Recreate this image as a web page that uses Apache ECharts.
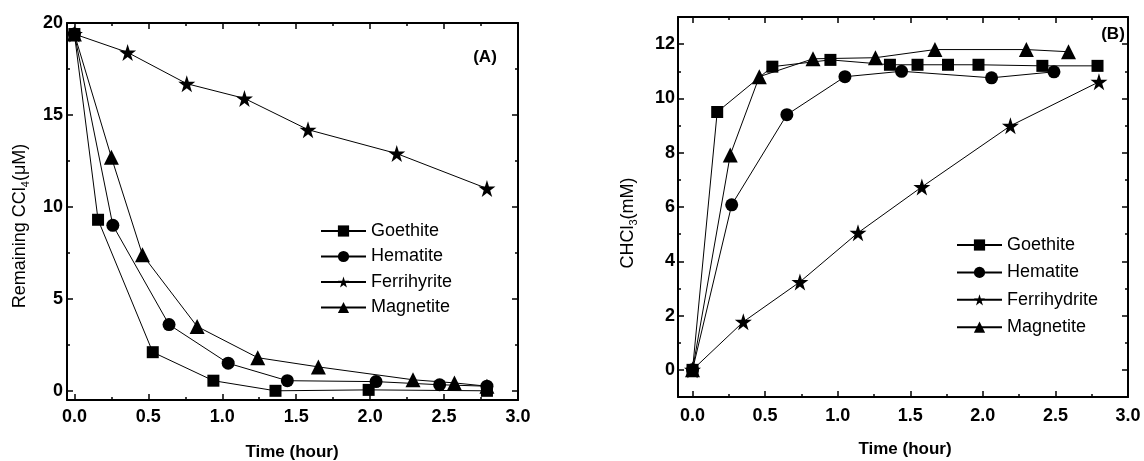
<!DOCTYPE html>
<html>
<head>
<meta charset="utf-8">
<script src="https://cdn.jsdelivr.net/npm/echarts@6/dist/echarts.min.js"></script>
<style>html,body{margin:0;padding:0;background:#fff;}#c{width:1144px;height:461px;}</style>
</head>
<body>
<div id="c"></div>
<script>
// ---------- Panel A: Remaining CCl4 (uM) vs time (hour) ----------
const seriesNamesA = ['Goethite', 'Hematite', 'Ferrihyrite', 'Magnetite'];
const tA_goethite = [0, 0.16, 0.53, 0.94, 1.36, 1.99, 2.79];
const yA_goethite = [19.4, 9.3, 2.1, 0.55, 0.0, 0.05, 0.0];
const tA_hematite = [0, 0.26, 0.64, 1.04, 1.44, 2.04, 2.47, 2.79];
const yA_hematite = [19.4, 9.0, 3.6, 1.5, 0.55, 0.5, 0.33, 0.25];
const tA_ferri = [0, 0.36, 0.76, 1.15, 1.58, 2.18, 2.79];
const yA_ferri = [19.4, 18.4, 16.7, 15.9, 14.2, 12.9, 11.0];
const tA_magnetite = [0, 0.25, 0.46, 0.83, 1.24, 1.65, 2.29, 2.57, 2.79];
const yA_magnetite = [19.4, 12.7, 7.4, 3.5, 1.8, 1.3, 0.6, 0.43, 0.25];
const xTicksA = [0, 0.5, 1.0, 1.5, 2.0, 2.5, 3.0];
const xMinorA = [0.25, 0.75, 1.25, 1.75, 2.25, 2.75];
const yTicksA = [0, 5, 10, 15, 20];
const yMinorA = [2.5, 7.5, 12.5, 17.5];

// ---------- Panel B: CHCl3 (mM) vs time (hour) ----------
const seriesNamesB = ['Goethite', 'Hematite', 'Ferrihydrite', 'Magnetite'];
const tB_goethite = [0, 0.17, 0.55, 0.95, 1.36, 1.55, 1.76, 1.97, 2.41, 2.79];
const yB_goethite = [0, 9.5, 11.17, 11.42, 11.24, 11.24, 11.24, 11.24, 11.2, 11.2];
const tB_hematite = [0, 0.27, 0.65, 1.05, 1.44, 2.06, 2.49];
const yB_hematite = [0, 6.08, 9.4, 10.8, 11.0, 10.76, 10.98];
const tB_ferri = [0, 0.35, 0.74, 1.14, 1.58, 2.19, 2.8];
const yB_ferri = [0, 1.77, 3.24, 5.05, 6.74, 8.99, 10.61];
const tB_magnetite = [0, 0.26, 0.46, 0.83, 1.26, 1.67, 2.3, 2.59];
const yB_magnetite = [0, 7.92, 10.8, 11.46, 11.5, 11.8, 11.8, 11.72];
const xTicksB = [0, 0.5, 1.0, 1.5, 2.0, 2.5, 3.0];
const xMinorB = [0.25, 0.75, 1.25, 1.75, 2.25, 2.75];
const yTicksB = [0, 2, 4, 6, 8, 10, 12];
const yMinorB = [-1, 1, 3, 5, 7, 9, 11, 13];

const FONT = 'Liberation Sans';
const STAR = 'path://M50,0L61.2,34.5L97.6,34.5L68.2,55.9L79.4,90.5L50,69.1L20.6,90.5L31.8,55.9L2.4,34.5L38.8,34.5Z';
const pairs = (xs, ys) => xs.map((x, i) => [x, ys[i]]);
const tickFont = { fontFamily: FONT, fontWeight: 'bold', fontSize: 18, color: '#000' };

function axisSet(kind, g, min, max, major, minor, margin, fmt) {
  const posA = kind === 'x' ? 'bottom' : 'left';
  const posB = kind === 'x' ? 'top' : 'right';
  const base = { type: 'value', gridIndex: g, min: min, max: max, splitLine: { show: false } };
  const line = { show: true, onZero: false, lineStyle: { color: '#000', width: 2 } };
  const noLine = { show: false, onZero: false };
  const tick = (vals, len) => ({ show: true, inside: true, length: len, customValues: vals, lineStyle: { color: '#000', width: 1.5 } });
  return [
    Object.assign({}, base, { position: posA, axisLine: line, axisTick: tick(major, 6),
      axisLabel: Object.assign({ show: true, customValues: major, margin: margin, formatter: fmt }, tickFont) }),
    Object.assign({}, base, { position: posA, axisLine: noLine, axisTick: tick(minor, 3), axisLabel: { show: false } }),
    Object.assign({}, base, { position: posB, axisLine: line, axisTick: tick(major, 6), axisLabel: { show: false } }),
    Object.assign({}, base, { position: posB, axisLine: noLine, axisTick: tick(minor, 3), axisLabel: { show: false } })
  ];
}

const fmt1 = v => v.toFixed(1);
const fmt0 = v => String(Math.round(v));

function mkSeries(name, data, symbol, size, axisIdx) {
  return {
    type: 'line', name: name, data: data, xAxisIndex: axisIdx, yAxisIndex: axisIdx,
    symbol: symbol, symbolSize: size, showAllSymbol: true,
    lineStyle: { color: '#000', width: 1 }, itemStyle: { color: '#000' },
    color: '#000', animation: false, z: 3
  };
}

const legendBase = {
  orient: 'vertical', itemWidth: 45, itemHeight: 14, selectedMode: false, padding: 0,
  textStyle: { fontFamily: FONT, fontSize: 18, color: '#000' }
};

const option = {
  animation: false,
  backgroundColor: '#fff',
  grid: [
    { left: 67, top: 23, width: 451, height: 377 },
    { left: 678, top: 17, width: 450, height: 380 }
  ],
  xAxis: [].concat(
    axisSet('x', 0, -0.05, 3.0, xTicksA, xMinorA, 8, fmt1),
    axisSet('x', 1, -0.1, 3.0, xTicksB, xMinorB, 10, fmt1)
  ),
  yAxis: [].concat(
    axisSet('y', 0, -0.5, 20, yTicksA, yMinorA, 4, fmt0),
    axisSet('y', 1, -1, 13, yTicksB, yMinorB, 3, fmt0)
  ),
  legend: [
    Object.assign({}, legendBase, { data: seriesNamesA, left: 320, top: 222, itemGap: 7.5 }),
    Object.assign({}, legendBase, { data: seriesNamesB, left: 956, top: 236, itemGap: 9.4 })
  ],
  series: [
    mkSeries(seriesNamesA[0], pairs(tA_goethite, yA_goethite), 'rect', 12, 0),
    mkSeries(seriesNamesA[1], pairs(tA_hematite, yA_hematite), 'circle', 13, 0),
    mkSeries(seriesNamesA[2], pairs(tA_ferri, yA_ferri), STAR, 17, 0),
    mkSeries(seriesNamesA[3], pairs(tA_magnetite, yA_magnetite), 'triangle', 15, 0),
    mkSeries(seriesNamesB[0], pairs(tB_goethite, yB_goethite), 'rect', 12, 4),
    mkSeries(seriesNamesB[1], pairs(tB_hematite, yB_hematite), 'circle', 13, 4),
    mkSeries(seriesNamesB[2], pairs(tB_ferri, yB_ferri), STAR, 17, 4),
    mkSeries(seriesNamesB[3], pairs(tB_magnetite, yB_magnetite), 'triangle', 15, 4)
  ],
  graphic: [
    { type: 'text', x: 20, y: 226, rotation: Math.PI / 2,
      style: { text: '{a|Remaining CCl}{s|4}{a|(μM)}', align: 'center', verticalAlign: 'middle',
        rich: { a: { fontFamily: FONT, fontSize: 18, lineHeight: 22, verticalAlign: 'middle', fill: '#000' },
                s: { fontFamily: FONT, fontSize: 11, lineHeight: 22, verticalAlign: 'bottom', fill: '#000' } } } },
    { type: 'text', x: 628, y: 223, rotation: Math.PI / 2,
      style: { text: '{a|CHCl}{s|3}{a|(mM)}', align: 'center', verticalAlign: 'middle',
        rich: { a: { fontFamily: FONT, fontSize: 18, lineHeight: 22, verticalAlign: 'middle', fill: '#000' },
                s: { fontFamily: FONT, fontSize: 11, lineHeight: 22, verticalAlign: 'bottom', fill: '#000' } } } },
    { type: 'text', x: 292, y: 452,
      style: { text: 'Time (hour)', align: 'center', verticalAlign: 'middle', fontFamily: FONT, fontWeight: 'bold', fontSize: 17, fill: '#000' } },
    { type: 'text', x: 905, y: 449,
      style: { text: 'Time (hour)', align: 'center', verticalAlign: 'middle', fontFamily: FONT, fontWeight: 'bold', fontSize: 17, fill: '#000' } },
    { type: 'text', x: 485, y: 57,
      style: { text: '(A)', align: 'center', verticalAlign: 'middle', fontFamily: FONT, fontWeight: 'bold', fontSize: 17, fill: '#000' } },
    { type: 'text', x: 1113, y: 34,
      style: { text: '(B)', align: 'center', verticalAlign: 'middle', fontFamily: FONT, fontWeight: 'bold', fontSize: 17, fill: '#000' } }
  ]
};

const chart = echarts.init(document.getElementById('c'), null, { renderer: 'canvas' });
chart.setOption(option);
</script>
</body>
</html>
